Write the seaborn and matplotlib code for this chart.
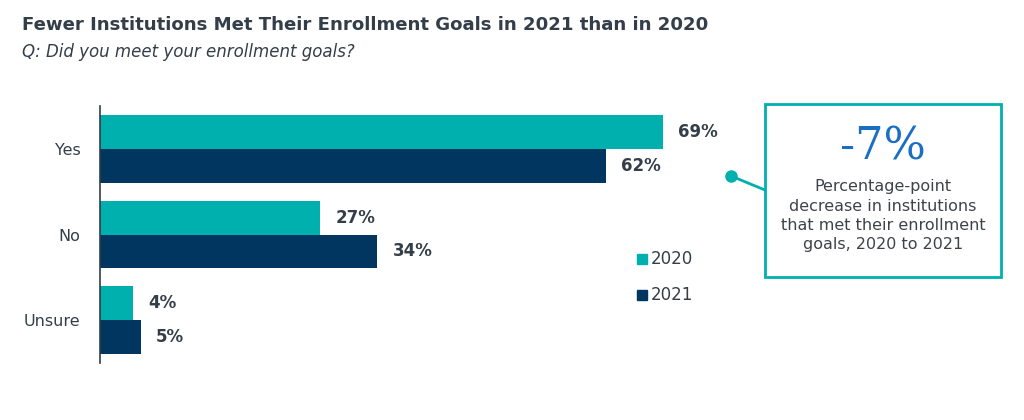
import matplotlib
matplotlib.use("Agg")
import matplotlib.pyplot as plt
import seaborn as sns
import pandas as pd
from matplotlib.patches import Rectangle
from matplotlib.lines import Line2D

categories = ["Yes", "No", "Unsure"]
years = ["2020", "2021"]
values_2020 = [69, 27, 4]
values_2021 = [62, 34, 5]

TEAL = "#00B0AF"
NAVY = "#003660"
TEXT = "#333E48"

df = pd.DataFrame({
    "answer": categories * 2,
    "year": [years[0]] * 3 + [years[1]] * 3,
    "value": values_2020 + values_2021,
})

sns.set_theme(style="white")
plt.rcParams["font.family"] = ["DejaVu Sans"]

W, H = 1024, 420
fig = plt.figure(figsize=(W / 100, H / 100), dpi=100)
ax_left, ax_right, ax_top, ax_bot = 100, 100 + 80 * 8.16, 106, 363
ax = fig.add_axes([ax_left / W, 1 - ax_bot / H, (ax_right - ax_left) / W, (ax_bot - ax_top) / H])

sns.barplot(data=df, y="answer", x="value", hue="year", order=categories,
            hue_order=years, palette=[TEAL, NAVY], orient="h", width=0.79,
            saturation=1, linewidth=0, ax=ax, legend=False)

ax.set_xlim(0, 80)
ax.set_ylim(2.5, -0.5)
for c in ax.containers:
    ax.bar_label(c, labels=[f"{int(v)}%" for v in c.datavalues], padding=11,
                 fontsize=12, fontweight="bold", color=TEXT)

ax.set_xlabel("")
ax.set_ylabel("")
ax.set_xticks([])
ax.tick_params(axis="y", length=0, pad=14, labelsize=11.5, labelcolor=TEXT)
for s in ["top", "right", "bottom"]:
    ax.spines[s].set_visible(False)
ax.spines["left"].set_color(TEXT)
ax.spines["left"].set_linewidth(1.2)

def fx(px):
    return px / W

def fy(py):
    return 1 - py / H

fig.text(fx(22), fy(25), "Fewer Institutions Met Their Enrollment Goals in 2021 than in 2020",
         fontsize=13.05, fontweight="bold", color=TEXT, va="center", ha="left")
fig.text(fx(22), fy(52), "Q: Did you meet your enrollment goals?",
         fontsize=12, fontstyle="italic", color=TEXT, va="center", ha="left")

# legend
for i, (yr, col) in enumerate(zip(years, [TEAL, NAVY])):
    yy = 259 + 36 * i
    fig.patches.append(Rectangle((fx(637), fy(yy + 5)), 10 / W, 10 / H,
                                 transform=fig.transFigure, color=col))
    fig.text(fx(651), fy(yy), yr, fontsize=12, color=TEXT, va="center", ha="left")

# callout box
fig.patches.append(Rectangle((fx(765), fy(277)), (1001 - 765) / W, (277 - 104) / H,
                             transform=fig.transFigure, fill=False, edgecolor=TEAL, linewidth=2))
fig.lines.append(Line2D([fx(731), fx(765)], [fy(176), fy(190)], transform=fig.transFigure,
                        color=TEAL, linewidth=2))
fig.lines.append(Line2D([fx(731)], [fy(176)], transform=fig.transFigure, marker="o",
                        markersize=8, color=TEAL))
fig.text(fx(883), fy(147), "-7%", fontsize=32, family="DejaVu Serif", color="#1B6FC2",
         ha="center", va="center")
for i, line in enumerate(["Percentage-point", "decrease in institutions",
                          "that met their enrollment", "goals, 2020 to 2021"]):
    fig.text(fx(883), fy(187 + 19.3 * i), line, fontsize=11.5, color="#3F4348",
             ha="center", va="center")

fig.savefig("out.png", dpi=100)
